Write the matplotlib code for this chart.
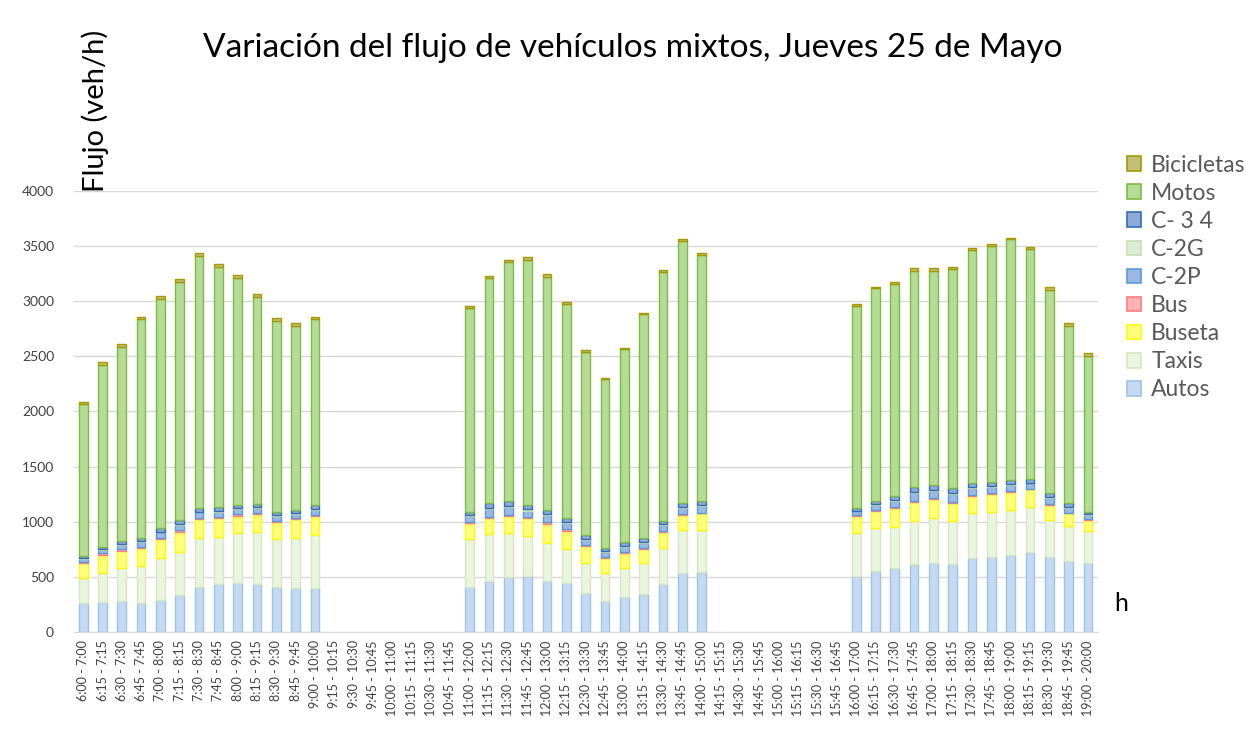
import numpy as np
import matplotlib.pyplot as plt
from matplotlib.patches import Patch

plt.rcParams['font.family'] = ['Lato', 'DejaVu Sans']

# 15-minute moving hourly windows, 6:00 - 20:00
starts = ['%d:%02d' % (h, m) for h in range(6, 20) for m in (0, 15, 30, 45)][:53]
ends = ['%d:%02d' % (h + 1, m) for h in range(6, 20) for m in (0, 15, 30, 45)][:53]
periodos = [s + ' - ' + e for s, e in zip(starts, ends)]

GAP = [None] * 7

autos = [260, 275, 284, 266, 290, 336, 405, 435, 441, 438, 411, 396, 396] + GAP + \
        [405, 463, 496, 511, 463, 441, 357, 284, 320, 342, 438, 538, 547] + GAP + \
        [511, 556, 578, 614, 629, 614, 668, 683, 698, 729, 677, 647, 623]
taxis = [227, 263, 294, 335, 384, 393, 444, 430, 454, 466, 430, 453, 484] + GAP + \
        [436, 423, 399, 363, 347, 309, 272, 248, 258, 287, 321, 387, 378] + GAP + \
        [384, 390, 377, 396, 408, 393, 408, 402, 409, 408, 339, 314, 293]
buseta = [136, 160, 157, 158, 167, 181, 173, 166, 157, 163, 160, 173, 172] + GAP + \
         [145, 151, 157, 157, 167, 166, 151, 136, 135, 124, 151, 136, 151] + GAP + \
         [160, 154, 172, 172, 169, 166, 161, 164, 166, 157, 136, 115, 100]
bus = [12, 15, 15, 15, 15, 15, 15, 15, 15, 13, 9, 9, 9] + GAP + \
      [9, 9, 9, 9, 18, 15, 9, 9, 9, 6, 9, 9, 6] + GAP + \
      [9, 6, 10, 9, 7, 9, 6, 9, 6, 6, 9, 6, 6]
c2p = [30, 35, 42, 45, 47, 50, 47, 46, 47, 44, 45, 42, 50] + GAP + \
      [53, 70, 72, 62, 62, 55, 50, 48, 50, 50, 50, 53, 60] + GAP + \
      [32, 47, 53, 67, 66, 67, 59, 55, 55, 48, 53, 47, 38]
c2g = [7, 6, 8, 8, 8, 9, 8, 8, 8, 8, 8, 7, 9] + GAP + \
      [9, 12, 12, 10, 10, 9, 9, 8, 9, 9, 9, 9, 10] + GAP + \
      [6, 8, 9, 11, 11, 11, 10, 9, 9, 8, 9, 8, 7]
c34 = [20, 20, 25, 29, 29, 32, 30, 30, 30, 28, 28, 27, 32] + GAP + \
      [34, 45, 46, 40, 40, 36, 32, 32, 32, 32, 32, 35, 39] + GAP + \
      [20, 30, 35, 43, 43, 43, 39, 35, 36, 32, 35, 30, 24]
motos = [1376, 1648, 1763, 1980, 2080, 2162, 2288, 2177, 2056, 1875, 1733, 1668, 1684] + GAP + \
        [1845, 2035, 2162, 2222, 2116, 1941, 1663, 1527, 1751, 2031, 2252, 2382, 2228] + GAP + \
        [1835, 1926, 1922, 1965, 1944, 1986, 2114, 2144, 2182, 2086, 1844, 1611, 1412]
bicicletas = [21, 24, 24, 24, 25, 24, 30, 28, 27, 27, 20, 25, 18] + GAP + \
             [18, 21, 21, 24, 21, 18, 15, 15, 15, 15, 21, 15, 15] + GAP + \
             [18, 15, 19, 21, 27, 24, 15, 15, 15, 21, 24, 22, 31]

series = [
    ('Autos', autos, '#C5DAF0', '#9DC3E6'),
    ('Taxis', taxis, '#EAF5E0', '#D5E8C4'),
    ('Buseta', buseta, '#FFFF80', '#FFFF00'),
    ('Bus', bus, '#FFB3B3', '#FF7C80'),
    ('C-2P', c2p, '#9DB9E3', '#5B9BD5'),
    ('C-2G', c2g, '#DDEDD2', '#C5E0B4'),
    ('C- 3 4', c34, '#8FA9D8', '#2F6EB5'),
    ('Motos', motos, '#B5DC96', '#7DBB42'),
    ('Bicicletas', bicicletas, '#C3BE7A', '#A39A00'),
]

fig = plt.figure(figsize=(12.46, 7.36), dpi=100)
ax = fig.add_axes([0.059, 0.1413, 0.822, 0.5992])

x = np.arange(len(periodos))
bottom = np.zeros(len(periodos))
handles = []
for name, vals, fc, ec in series:
    v = np.array([np.nan if a is None else a for a in vals], dtype=float)
    ax.bar(x, v, width=0.45, bottom=bottom, color=fc, edgecolor=ec, linewidth=1.0, zorder=3)
    bottom = bottom + v
    handles.append(Patch(facecolor=fc, edgecolor=ec, linewidth=1.2, label=name))

ax.set_xlim(-0.5, len(periodos) - 0.5)
ax.set_ylim(0, 4000)
ax.set_yticks(range(0, 4001, 500))
ax.set_xticks(x)
ax.set_xticklabels(periodos, rotation=90, fontsize=9, color='#404040')
ax.tick_params(axis='y', labelsize=10, colors='#404040', length=0, pad=14)
ax.tick_params(axis='x', length=0, pad=6)
ax.grid(axis='y', color='#D9D9D9', linewidth=1.0, zorder=0)
for s in ['top', 'right', 'left']:
    ax.spines[s].set_visible(False)
ax.spines['bottom'].set_color('#D9D9D9')

fig.text(0.508, 0.935, 'Variación del flujo de vehículos mixtos, Jueves 25 de Mayo',
         ha='center', va='center', fontsize=24, color='black')
fig.text(0.076, 0.85, 'Flujo (veh/h)', rotation=90, ha='center', va='center',
         fontsize=21, color='black')
fig.text(0.9, 0.18, 'h', ha='center', va='center', fontsize=18, color='black')

fig.legend(handles[::-1], [h.get_label() for h in handles[::-1]],
           loc='upper left', bbox_to_anchor=(0.888, 0.818), frameon=False,
           fontsize=16.5, labelcolor='#595959', handlelength=0.6, handleheight=0.6,
           handletextpad=0.45, labelspacing=0.31)

fig.savefig('out.png', dpi=100)
